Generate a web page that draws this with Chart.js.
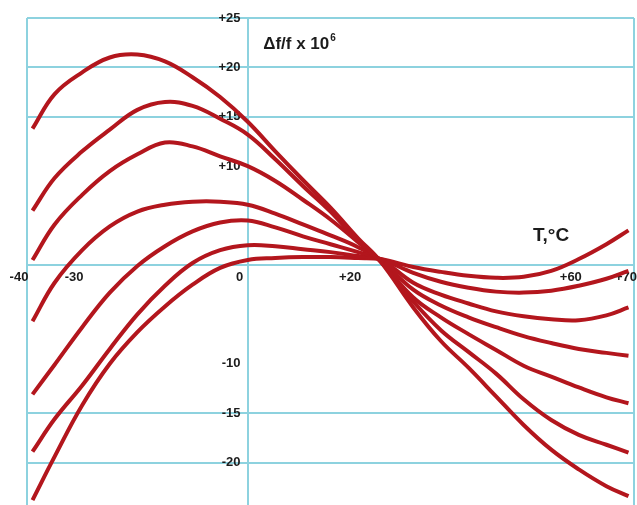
<!DOCTYPE html>
<html>
<head>
<meta charset="utf-8">
<script src="https://cdn.jsdelivr.net/npm/chart.js@4.4.1/dist/chart.umd.min.js"></script>
<style>
  html, body { margin: 0; padding: 0; background: #fff; }
  #wrap { width: 637px; height: 505px; }
</style>
</head>
<body>
<div id="wrap"><canvas id="chart" width="637" height="505"></canvas></div>
<script>
// temperature, deg C
const temps = [-39, -35, -30, -25, -20, -15, -10, -5, 0, 5, 10, 15, 20, 24, 30, 35, 40, 45, 50, 55, 60, 65, 69];

// delta f / f x 10^6, one curve per cut (curve1 = highest on the left)
const curve1 = [13.8, 17.3, 19.5, 21.0, 21.3, 20.6, 19.0, 17.0, 14.5, 11.5, 8.6, 5.8, 2.7, 0.4, -4.3, -7.7, -10.4, -13.3, -16.2, -18.7, -20.7, -22.4, -23.4];
const curve2 = [5.5, 8.8, 11.5, 13.7, 15.7, 16.5, 16.1, 14.8, 13.2, 10.7, 8.0, 5.4, 2.4, 0.4, -3.7, -6.6, -8.8, -11.0, -13.6, -15.7, -17.2, -18.2, -19.0];
const curve3 = [0.5, 4.1, 7.1, 9.5, 11.2, 12.4, 12.0, 11.0, 10.0, 8.5, 6.6, 4.6, 2.3, 0.4, -3.3, -5.3, -7.0, -8.6, -10.2, -11.3, -12.4, -13.4, -14.0];
const curve4 = [-5.7, -1.8, 1.5, 3.9, 5.4, 6.1, 6.4, 6.4, 6.1, 5.2, 4.1, 3.0, 1.8, 0.5, -2.5, -4.1, -5.3, -6.3, -7.2, -7.9, -8.5, -8.9, -9.2];
const curve5 = [-13.1, -10.1, -6.3, -2.8, -0.1, 1.9, 3.4, 4.3, 4.5, 3.8, 2.9, 2.1, 1.3, 0.6, -1.8, -3.0, -3.9, -4.7, -5.2, -5.5, -5.6, -5.1, -4.3];
const curve6 = [-18.9, -15.6, -12.2, -8.5, -5.0, -2.1, 0.2, 1.5, 2.0, 1.9, 1.6, 1.3, 0.9, 0.6, -0.8, -1.7, -2.3, -2.7, -2.8, -2.6, -2.1, -1.4, -0.6];
const curve7 = [-23.8, -19.4, -14.2, -10.0, -6.8, -4.2, -2.0, -0.3, 0.5, 0.7, 0.8, 0.8, 0.7, 0.6, -0.2, -0.7, -1.1, -1.3, -1.2, -0.6, 0.6, 2.1, 3.5];

const curves = [curve1, curve2, curve3, curve4, curve5, curve6, curve7];

// axis ticks
const xTicks = [-40, -30, 0, 20, 60, 70];
const xGridAt = [-40, 0, 70];
const yTicks = [25, 20, 15, 10, 0, -10, -15, -20, -25];
const yGridAt = [25, 20, 15, 0, -15, -20, -25];

const gridColor = '#8dd2df';
const lineColor = '#b3161d';
const textColor = '#1c1c1c';
const fontFamily = '"Liberation Sans", Arial, sans-serif';

function signed(v) {
  return v > 0 ? '+' + v : String(v);
}

function noPadding(scale) {
  scale.paddingLeft = 0;
  scale.paddingRight = 0;
  scale.paddingTop = 0;
  scale.paddingBottom = 0;
}

const titles = {
  id: 'titles',
  afterDraw(chart) {
    const { ctx, scales: { x, y } } = chart;
    ctx.save();
    ctx.fillStyle = textColor;
    ctx.textBaseline = 'alphabetic';
    ctx.textAlign = 'left';

    const px = x.getPixelForValue(2.8);
    const py = y.getPixelForValue(21.9);
    const main = '\u0394f/f x 10';
    ctx.font = 'bold 17px ' + fontFamily;
    ctx.fillText(main, px, py);
    const w = ctx.measureText(main).width;
    ctx.font = 'bold 10px ' + fontFamily;
    ctx.fillText('6', px + w + 1, py - 8);

    ctx.font = 'bold 19px ' + fontFamily;
    ctx.fillText('T,\u00b0C', x.getPixelForValue(51.7), y.getPixelForValue(2.4));
    ctx.restore();
  }
};

const ctx = document.getElementById('chart');

new Chart(ctx, {
  type: 'line',
  data: {
    datasets: curves.map((c, i) => ({
      label: 'curve ' + (i + 1),
      data: temps.map((t, j) => ({ x: t, y: c[j] })),
      borderColor: lineColor,
      borderWidth: 4,
      pointRadius: 0,
      fill: false,
      tension: 0.4
    }))
  },
  options: {
    responsive: false,
    animation: false,
    devicePixelRatio: 1,
    layout: { padding: { left: 27, right: 3, top: 18, bottom: 0 } },
    plugins: {
      legend: { display: false },
      tooltip: { enabled: false }
    },
    scales: {
      x: {
        type: 'linear',
        min: -40,
        max: 70,
        position: { y: 0 },
        afterBuildTicks: s => { s.ticks = xTicks.map(v => ({ value: v })); },
        afterFit: noPadding,
        border: { display: false },
        grid: {
          drawTicks: false,
          lineWidth: 2,
          color: c => (c.tick && xGridAt.includes(c.tick.value)) ? gridColor : 'rgba(0,0,0,0)'
        },
        ticks: {
          autoSkip: false,
          maxRotation: 0,
          padding: 5,
          labelOffset: -8,
          color: textColor,
          font: { family: fontFamily, size: 13, weight: 'bold' },
          callback: v => signed(v)
        }
      },
      y: {
        type: 'linear',
        min: -24.3,
        max: 25,
        position: { x: -1.3 },
        afterBuildTicks: s => { s.ticks = yTicks.map(v => ({ value: v })); },
        afterFit: noPadding,
        border: { display: false },
        grid: {
          drawTicks: false,
          lineWidth: 2,
          color: c => (c.tick && yGridAt.includes(c.tick.value)) ? gridColor : 'rgba(0,0,0,0)'
        },
        ticks: {
          autoSkip: false,
          color: textColor,
          font: { family: fontFamily, size: 13, weight: 'bold' },
          callback: v => v === 0 ? '' : signed(v)
        }
      }
    }
  },
  plugins: [titles]
});
</script>
</body>
</html>
